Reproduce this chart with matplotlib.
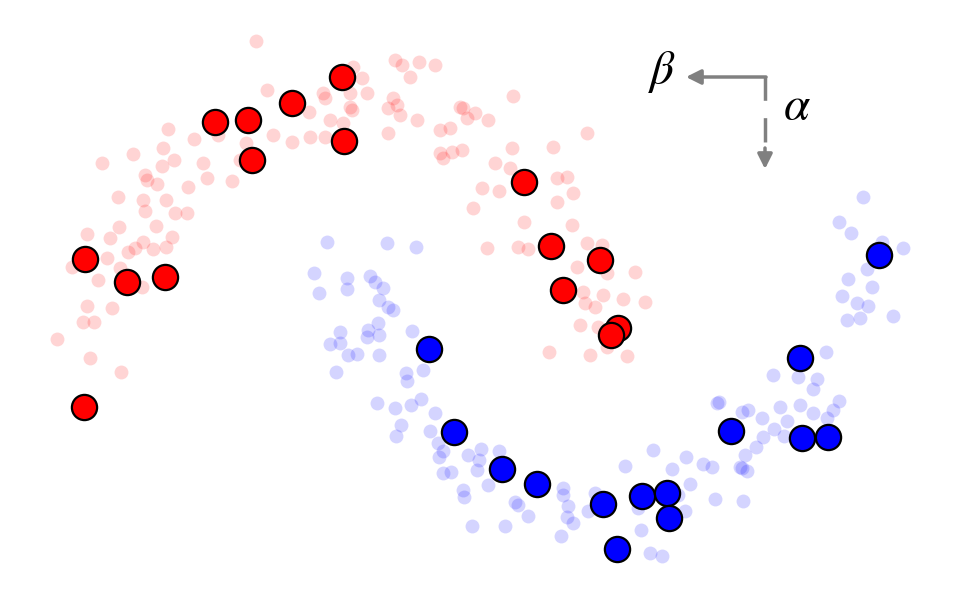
import matplotlib
matplotlib.use("Agg")
import matplotlib.pyplot as plt

# faded background points (pixel-like coordinates)
red_bg_x = [256, 267, 323, 325, 353, 350, 352, 309, 330, 343, 168, 194, 218, 246, 273, 292, 310, 325,
            163, 133, 174, 102, 203, 162, 240, 145, 147, 157, 207, 232, 188, 118, 143, 166, 145, 175, 187,
            87, 119, 110, 156, 172, 143, 135, 128, 153, 166, 107, 72, 120, 98, 142, 87, 112, 83, 94, 57, 90, 121,
            395, 402, 410, 419, 435, 362, 350, 367, 393, 397, 388, 400, 388, 417, 440, 450, 460, 463, 475, 467,
            488, 513, 587, 440, 443, 452, 462, 512, 553, 495, 510, 482, 499, 473, 557, 567, 573, 557, 524, 572,
            487, 518, 528, 587, 602, 577, 607, 635, 583, 603, 585, 595, 623, 645, 580, 598, 607, 549, 590, 627]
red_bg_y = [41, 90, 93, 98, 67, 107, 110, 112, 120, 123, 129, 139, 135, 143, 135, 142, 137, 137,
            148, 154, 160, 163, 163, 166, 160, 175, 180, 184, 178, 181, 187, 197, 200, 200, 211, 213, 213,
            234, 227, 238, 226, 237, 242, 248, 252, 249, 247, 258, 267, 268, 280, 287, 306, 308, 322, 322, 339, 358, 372,
            60, 65, 77, 62, 65, 78, 93, 93, 98, 105, 108, 115, 133, 120, 130, 128, 107, 108, 113, 118,
            120, 96, 133, 153, 158, 152, 150, 148, 147, 163, 168, 188, 191, 208, 178, 177, 193, 202, 222, 225,
            248, 247, 249, 243, 245, 267, 273, 272, 292, 295, 303, 307, 299, 302, 325, 327, 347, 352, 355, 356]

blue_bg_x = [327, 387, 416, 314, 347, 347, 319, 370, 375, 383, 379, 388, 393, 378, 368, 379, 367, 340, 330,
             340, 348, 357, 379, 412, 336, 406, 407, 423, 377, 395, 411, 421, 435, 401, 396, 430, 438, 443,
             439, 443, 451, 468, 481, 479, 477, 499, 488, 463, 464, 472, 505, 515, 518, 528, 563, 563, 568,
             567, 573, 561, 595, 588, 625, 653, 641, 650, 662, 686, 672, 690, 685, 678, 703, 712, 715, 743,
             745, 742, 747, 717, 638, 740,
             863, 839, 851, 882, 903, 867, 848, 872, 842, 857, 868, 847, 860, 893, 826, 773, 798, 817, 813,
             719, 742, 748, 780, 800, 813, 839, 833, 827, 762, 787, 774, 784, 763, 756]
blue_bg_y = [242, 243, 247, 273, 278, 289, 293, 276, 282, 288, 300, 307, 310, 323, 330, 335, 337, 332, 344,
             343, 355, 354, 355, 331, 372, 373, 381, 370, 403, 408, 405, 399, 413, 425, 436, 431, 443, 451,
             457, 473, 472, 455, 449, 460, 470, 451, 485, 490, 497, 526, 526, 502, 505, 516, 488, 495, 506,
             517, 523, 536, 493, 511, 466, 450, 530, 553, 556, 457, 469, 484, 511, 495, 464, 467, 499, 501,
             455, 468, 471, 403, 508, 467,
             197, 222, 233, 242, 248, 269, 279, 287, 296, 303, 306, 320, 318, 316, 352, 375, 377, 379, 389,
             402, 412, 410, 407, 405, 413, 401, 410, 418, 418, 421, 429, 436, 437, 447]

# highlighted points
red_x = [342, 292, 248, 215, 252, 344, 85, 127, 165, 84, 524, 551, 600, 563, 618, 611]
red_y = [77, 103, 120, 122, 160, 141, 259, 282, 277, 407, 182, 246, 260, 290, 328, 335]
blue_x = [879, 429, 800, 454, 731, 802, 828, 502, 537, 603, 642, 667, 669, 617]
blue_y = [255, 349, 358, 432, 431, 438, 437, 469, 484, 504, 496, 493, 518, 549]

plt.rcParams["mathtext.fontset"] = "stix"

fig = plt.figure(figsize=(9.58, 5.97), dpi=100)
ax = fig.add_axes([0, 0, 1, 1])
ax.set_xlim(0, 958)
ax.set_ylim(597, 0)
ax.axis("off")

ax.scatter(red_bg_x, red_bg_y, s=100, color="red", alpha=0.17, linewidths=0)
ax.scatter(blue_bg_x, blue_bg_y, s=100, color="blue", alpha=0.17, linewidths=0)
ax.scatter(red_x, red_y, s=330, color="red", edgecolors="black", linewidths=1.6, zorder=3)
ax.scatter(blue_x, blue_y, s=330, color="blue", edgecolors="black", linewidths=1.6, zorder=3)

# direction arrows
grey = "#808080"
ax.annotate("", xy=(686, 77), xytext=(766, 77),
            arrowprops=dict(arrowstyle="-|>", color=grey, lw=2.5, mutation_scale=22,
                            shrinkA=0, shrinkB=0))
ax.plot([765, 765], [76, 150], color=grey, lw=2.5, dashes=(7, 5), solid_capstyle="butt")
ax.annotate("", xy=(765, 169), xytext=(765, 148),
            arrowprops=dict(arrowstyle="-|>", color=grey, lw=2.5, mutation_scale=22,
                            shrinkA=0, shrinkB=0))

ax.text(662, 72, r"$\beta$", fontsize=34, ha="center", va="center")
ax.text(797, 106, r"$\alpha$", fontsize=34, ha="center", va="center")

fig.savefig("out.png", dpi=100)
